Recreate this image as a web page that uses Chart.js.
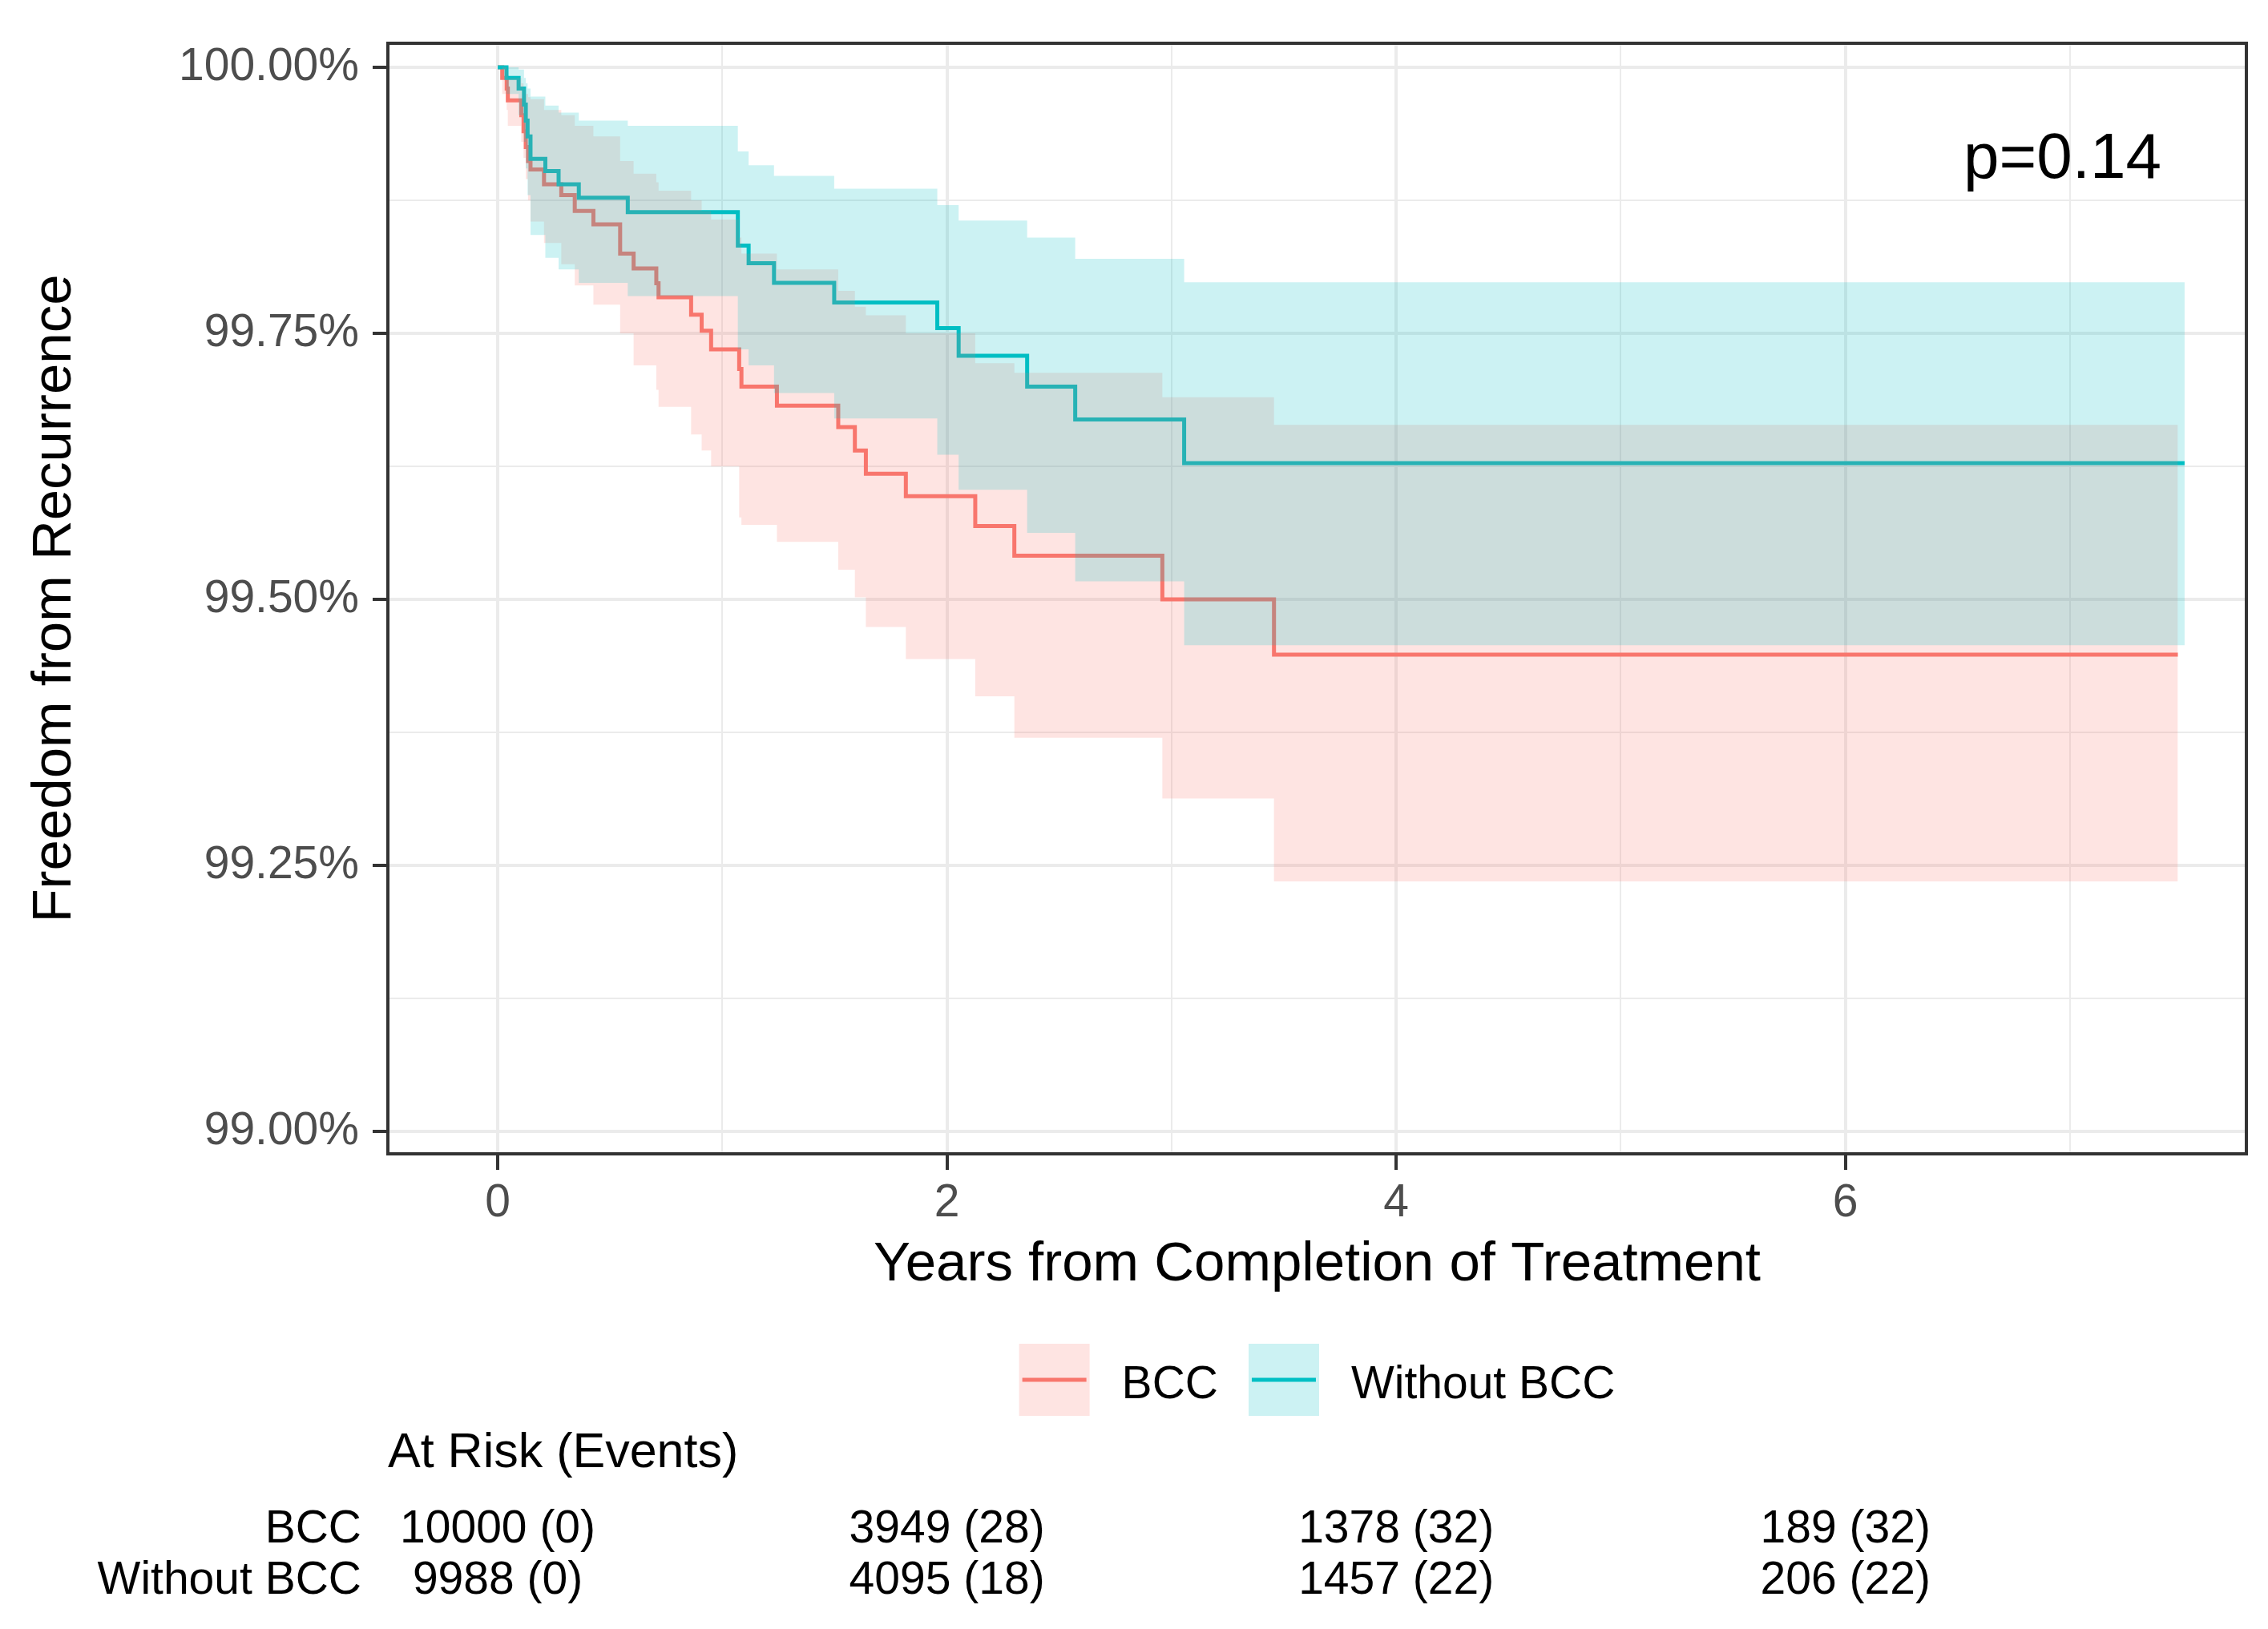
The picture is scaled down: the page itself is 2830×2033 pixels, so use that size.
<!DOCTYPE html>
<html>
<head>
<meta charset="utf-8">
<script src="https://cdn.jsdelivr.net/npm/chart.js@4.4.0/dist/chart.umd.min.js"></script>
<style>
  html, body { margin: 0; padding: 0; background: #fff; }
  #km { display: block; }
</style>
</head>
<body>
<canvas id="km" width="2830" height="2033"></canvas>
<script>
// BCC group: time (years), survival %, upper and lower 95% band
const bccTime  = [0, 0.02, 0.04, 0.045, 0.105, 0.115, 0.125, 0.135, 0.146, 0.206, 0.283, 0.343, 0.426, 0.545, 0.605, 0.706, 0.716, 0.861, 0.908, 0.95, 1.075, 1.085, 1.243, 1.516, 1.59, 1.639, 1.817, 2.126, 2.30, 2.959, 3.456, 7.48];
const bccSurv  = [100, 99.99, 99.98, 99.969, 99.955, 99.94, 99.925, 99.912, 99.904, 99.89, 99.88, 99.865, 99.8525, 99.825, 99.811, 99.797, 99.784, 99.7675, 99.7525, 99.735, 99.7165, 99.70, 99.682, 99.662, 99.640, 99.618, 99.597, 99.569, 99.541, 99.500, 99.448, 99.448];
const bccUpper = [100, 100, 99.998, 99.99, 99.985, 99.98, 99.975, 99.972, 99.97, 99.96, 99.955, 99.945, 99.935, 99.912, 99.90, 99.892, 99.884, 99.875, 99.865, 99.857, 99.84, 99.825, 99.81, 99.79, 99.775, 99.767, 99.75, 99.722, 99.713, 99.69, 99.664, 99.664];
const bccLower = [100, 99.975, 99.96, 99.945, 99.93, 99.915, 99.895, 99.875, 99.855, 99.835, 99.815, 99.795, 99.777, 99.75, 99.72, 99.697, 99.681, 99.655, 99.64, 99.625, 99.577, 99.57, 99.554, 99.528, 99.502, 99.474, 99.444, 99.409, 99.37, 99.313, 99.235, 99.235];

// Without BCC group
const noTime  = [0, 0.039, 0.093, 0.117, 0.125, 0.133, 0.146, 0.212, 0.271, 0.361, 0.579, 1.069, 1.117, 1.23, 1.498, 1.957, 2.052, 2.357, 2.571, 3.056, 7.51];
const noSurv  = [100, 99.99, 99.98, 99.965, 99.95, 99.935, 99.914, 99.9025, 99.89, 99.8775, 99.864, 99.8325, 99.816, 99.7975, 99.779, 99.755, 99.729, 99.70, 99.669, 99.628, 99.628];
const noUpper = [100, 100, 99.998, 99.99, 99.985, 99.98, 99.9725, 99.964, 99.9575, 99.95, 99.945, 99.921, 99.908, 99.898, 99.886, 99.8705, 99.856, 99.840, 99.820, 99.798, 99.798];
const noLower = [100, 99.975, 99.955, 99.93, 99.905, 99.88, 99.8425, 99.821, 99.81, 99.7975, 99.785, 99.735, 99.72, 99.694, 99.67, 99.636, 99.603, 99.5625, 99.517, 99.457, 99.457];

const groupNames = ['BCC', 'Without BCC'];
const riskTimes = [0, 2, 4, 6];
const bccAtRisk = [10000, 3949, 1378, 189];
const bccEvents = [0, 28, 32, 32];
const noAtRisk  = [9988, 4095, 1457, 206];
const noEvents  = [0, 18, 22, 22];

const xTicks = [0, 1, 2, 3, 4, 5, 6, 7];
const yTicks = [99, 99.125, 99.25, 99.375, 99.5, 99.625, 99.75, 99.875, 100];
const pValue = 'p=0.14';

const RED = '#F8766D', TEAL = '#00BFC4';
const RED_FILL = 'rgba(248,118,109,0.2)', TEAL_FILL = 'rgba(0,191,196,0.2)';
const FONT = '"Liberation Sans", Arial, sans-serif';
const NONE = 'rgba(0,0,0,0)';

function pts(t, v) {
  return t.map((x, i) => ({ x: x, y: v[i] }));
}

const isMajorX = v => v % 2 === 0;
const isMajorY = v => Math.round(v * 1000) % 250 === 0;

// panel border, p-value, titles, legend and risk table
const decorations = {
  id: 'decorations',
  afterDatasetsDraw(chart) {
    const { ctx, chartArea: a } = chart;
    ctx.save();
    ctx.strokeStyle = '#333333';
    ctx.lineWidth = 4;
    ctx.strokeRect(a.left, a.top, a.right - a.left, a.bottom - a.top);
    ctx.fillStyle = '#000';
    ctx.font = '80px ' + FONT;
    ctx.textAlign = 'left';
    ctx.textBaseline = 'alphabetic';
    ctx.fillText(pValue, 2450, 222);
    ctx.restore();
  },
  afterDraw(chart) {
    const { ctx, chartArea: a, scales: { x } } = chart;
    const mid = (a.left + a.right) / 2;
    ctx.save();
    ctx.fillStyle = '#000';
    ctx.textBaseline = 'alphabetic';

    // axis titles
    ctx.font = '69px ' + FONT;
    ctx.textAlign = 'center';
    ctx.fillText('Years from Completion of Treatment', mid, 1598);
    ctx.save();
    ctx.translate(88, (a.top + a.bottom) / 2);
    ctx.rotate(-Math.PI / 2);
    ctx.fillText('Freedom from Recurrence', 0, 0);
    ctx.restore();

    // legend
    const fills = [RED_FILL, TEAL_FILL], lines = [RED, TEAL];
    ctx.font = '57px ' + FONT;
    const keyW = 88, keyH = 90, gapText = 40, gapItem = 38, keyTop = 1677;
    const widths = groupNames.map(n => ctx.measureText(n).width);
    const total = groupNames.length * (keyW + gapText) + widths.reduce((s, w) => s + w, 0) + gapItem * (groupNames.length - 1);
    let lx = mid - total / 2;
    groupNames.forEach((name, i) => {
      ctx.fillStyle = fills[i];
      ctx.fillRect(lx, keyTop, keyW, keyH);
      ctx.strokeStyle = lines[i];
      ctx.lineWidth = 5;
      ctx.beginPath();
      ctx.moveTo(lx + 4, keyTop + keyH / 2);
      ctx.lineTo(lx + keyW - 4, keyTop + keyH / 2);
      ctx.stroke();
      ctx.fillStyle = '#000';
      ctx.textAlign = 'left';
      ctx.fillText(name, lx + keyW + gapText, 1745);
      lx += keyW + gapText + widths[i] + gapItem;
    });

    // risk table
    ctx.font = '61px ' + FONT;
    ctx.textAlign = 'left';
    ctx.fillText('At Risk (Events)', a.left, 1831);
    ctx.font = '57px ' + FONT;
    const rows = [[bccAtRisk, bccEvents, 1925], [noAtRisk, noEvents, 1989]];
    rows.forEach(([risk, ev, y], r) => {
      ctx.textAlign = 'right';
      ctx.fillText(groupNames[r], 451, y);
      ctx.textAlign = 'center';
      riskTimes.forEach((t, i) => {
        ctx.fillText(risk[i] + ' (' + ev[i] + ')', x.getPixelForValue(t), y);
      });
    });
    ctx.restore();
  }
};

const band = (t, v, fill, order) => ({
  data: pts(t, v), stepped: true, borderColor: NONE, borderWidth: 0,
  pointRadius: 0, fill: fill ? '+1' : false, backgroundColor: fill || NONE, order: order
});

new Chart(document.getElementById('km'), {
  type: 'line',
  data: {
    datasets: [
      Object.assign(band(noTime, noUpper, TEAL_FILL, 0), { label: 'Without BCC upper' }),
      Object.assign(band(noTime, noLower, null, 0), { label: 'Without BCC lower' }),
      Object.assign(band(bccTime, bccUpper, RED_FILL, 1), { label: 'BCC upper' }),
      Object.assign(band(bccTime, bccLower, null, 1), { label: 'BCC lower' }),
      {
        label: 'Without BCC', data: pts(noTime, noSurv), stepped: true,
        borderColor: TEAL, borderWidth: 5, pointRadius: 0, fill: false, order: 2
      },
      {
        label: 'BCC', data: pts(bccTime, bccSurv), stepped: true,
        borderColor: RED, borderWidth: 5, pointRadius: 0, fill: false, order: 3
      }
    ]
  },
  options: {
    responsive: false,
    animation: false,
    devicePixelRatio: 1,
    events: [],
    layout: { padding: { left: 0, right: 27, top: 54, bottom: 0 } },
    plugins: { legend: { display: false }, tooltip: { enabled: false } },
    scales: {
      x: {
        type: 'linear', min: -0.489, max: 7.785,
        afterBuildTicks: s => { s.ticks = xTicks.map(v => ({ value: v })); },
        afterFit: s => { s.height = 593; },
        border: { display: false },
        grid: {
          color: '#EBEBEB',
          lineWidth: c => (c.tick && isMajorX(c.tick.value) ? 4 : 2),
          tickColor: c => (c.tick && isMajorX(c.tick.value) ? '#333333' : NONE),
          tickWidth: 4,
          tickLength: 20
        },
        ticks: {
          autoSkip: false, maxRotation: 0, minRotation: 0, padding: 8,
          color: '#4D4D4D', font: { family: FONT, size: 57 },
          callback: v => (isMajorX(v) ? String(v) : '')
        }
      },
      y: {
        type: 'linear', min: 98.979, max: 100.0226,
        afterBuildTicks: s => { s.ticks = yTicks.map(v => ({ value: v })); },
        afterFit: s => { s.width = 484; },
        border: { display: false },
        grid: {
          color: '#EBEBEB',
          lineWidth: c => (c.tick && isMajorY(c.tick.value) ? 4 : 2),
          tickColor: c => (c.tick && isMajorY(c.tick.value) ? '#333333' : NONE),
          tickWidth: 4,
          tickLength: 19
        },
        ticks: {
          autoSkip: false, padding: 17,
          color: '#4D4D4D', font: { family: FONT, size: 57 },
          callback: v => (isMajorY(v) ? v.toFixed(2) + '%' : '')
        }
      }
    }
  },
  plugins: [decorations]
});
</script>
</body>
</html>
